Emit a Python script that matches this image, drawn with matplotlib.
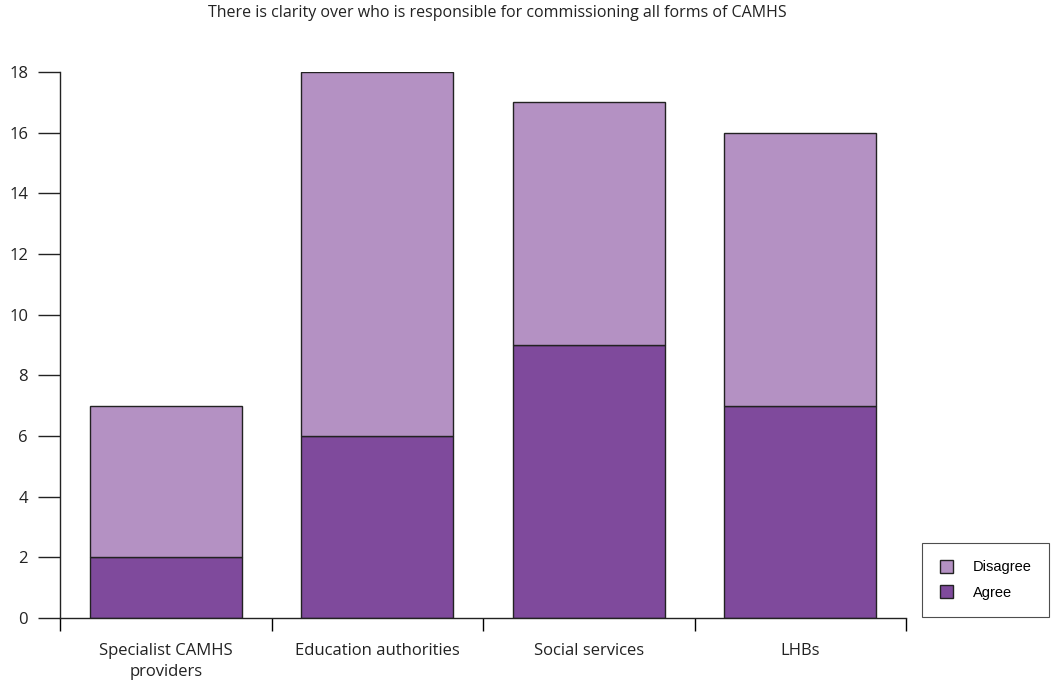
import matplotlib.pyplot as plt
import numpy as np
from matplotlib.patches import Patch

groups = ["Specialist CAMHS\nproviders", "Education authorities", "Social services", "LHBs"]
agree = [2, 6, 9, 7]
disagree = [5, 12, 8, 9]
yticks = [0, 2, 4, 6, 8, 10, 12, 14, 16, 18]

agree_col = "#7f4a9c"
disagree_col = "#b491c3"

plt.rcParams['font.family'] = ['Open Sans', 'DejaVu Sans']

fig = plt.figure(figsize=(10.53, 6.86), dpi=100)
ax = fig.add_axes([60/1053, 68/686, 846/1053, 546/686])

x = np.arange(len(groups))
ax.bar(x, agree, width=0.72, color=agree_col, edgecolor="#222222", linewidth=1.0, zorder=2)
ax.bar(x, disagree, width=0.72, bottom=agree, color=disagree_col, edgecolor="#222222", linewidth=1.0, zorder=2)

ax.set_xlim(-0.5, len(groups) - 0.5)
ax.set_ylim(0, 18)
ax.set_yticks(yticks)
ax.tick_params(axis="y", direction="out", length=16, width=1.0, labelsize=12, pad=7, colors="#222222")
ax.set_xticks(x)
ax.set_xticklabels(groups, fontsize=12, color="#222222", linespacing=1.45)
ax.tick_params(axis="x", length=0, pad=18)
# boundary ticks between categories
ax.set_xticks(np.arange(len(groups) + 1) - 0.5, minor=True)
ax.tick_params(axis="x", which="minor", direction="out", length=9, width=1.0)

for s in ["top", "right"]:
    ax.spines[s].set_visible(False)
for s in ["left", "bottom"]:
    ax.spines[s].set_linewidth(1.0)
    ax.spines[s].set_color("#222222")

fig.text(497/1053, 1 - 13/686, "There is clarity over who is responsible for commissioning all forms of CAMHS",
         ha="center", va="center", fontsize=11.5, color="#222222")

handles = [Patch(facecolor=disagree_col, edgecolor="#222222", label="Disagree"),
           Patch(facecolor=agree_col, edgecolor="#222222", label="Agree")]
leg = fig.legend(handles=handles, loc="lower left", bbox_to_anchor=(922/1053, 69/686),
                 frameon=True, fancybox=False, edgecolor="#222222", borderpad=1.2,
                 handlelength=0.9, handleheight=0.9, handletextpad=1.4, labelspacing=0.75,
                 borderaxespad=0, prop={"family": "Liberation Sans", "size": 10.5})
leg.get_frame().set_linewidth(0.8)

fig.savefig("out.png", dpi=100)
